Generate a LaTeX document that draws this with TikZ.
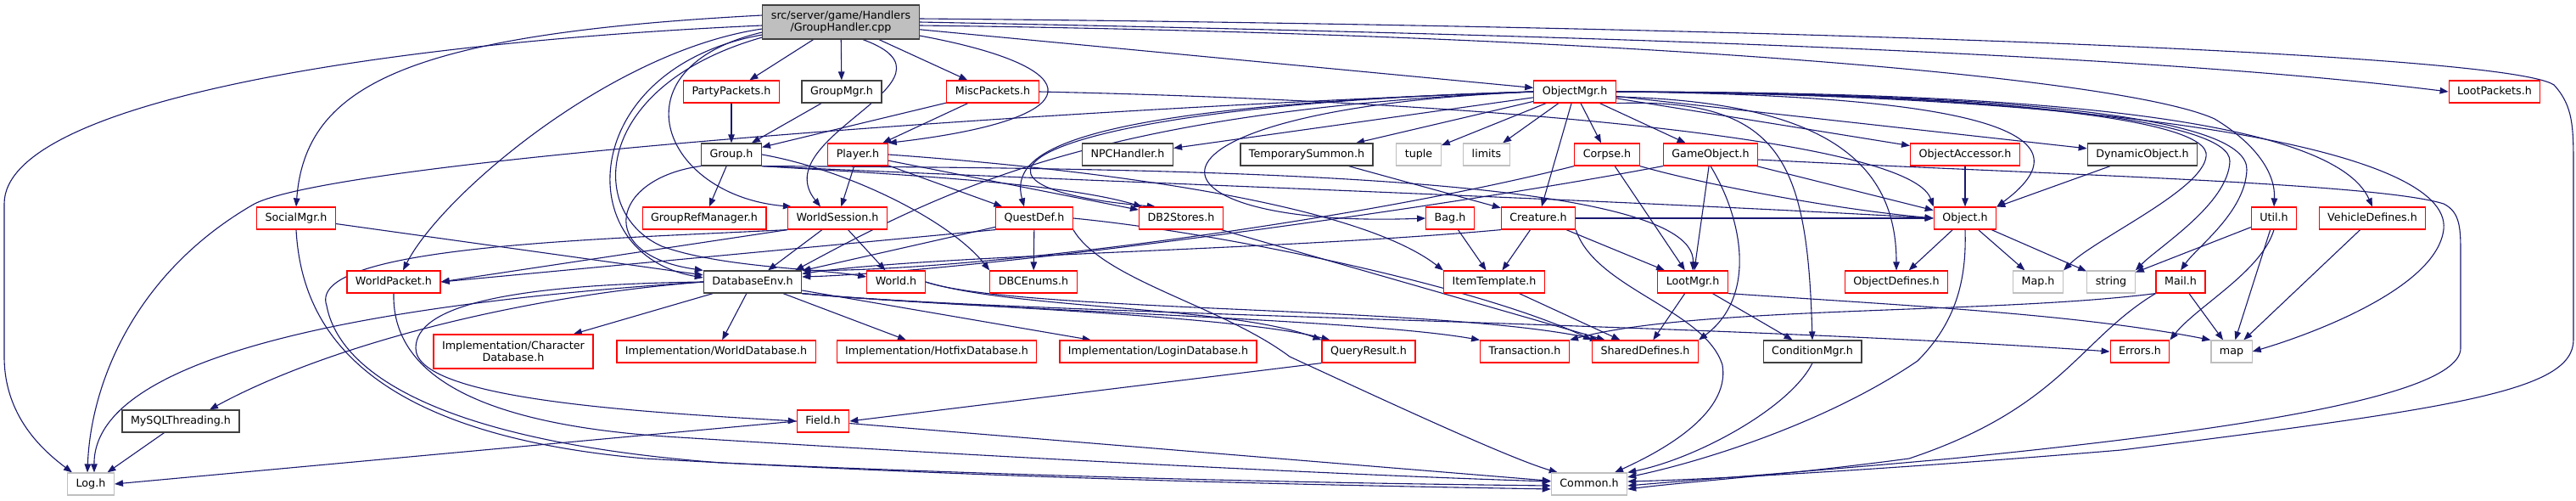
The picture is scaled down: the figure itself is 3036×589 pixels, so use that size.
\documentclass[tikz,border=0pt]{standalone}
\usepackage{fontspec}
\setmainfont{DejaVu Sans}
\usetikzlibrary{arrows.meta,calc}
\pgfdeclarelayer{bg}
\pgfsetlayers{bg,main}
\definecolor{edgecol}{HTML}{191970}
\definecolor{grayb}{HTML}{BFBFBF}
\definecolor{redb}{HTML}{FF0000}
\definecolor{blackb}{HTML}{404040}
\begin{document}
\begin{tikzpicture}[x=1pt,y=-1pt,
  box/.style={draw, rectangle, fill=white, line width=1.2pt, inner xsep=10pt, inner ysep=0pt,
    minimum height=26pt, text height=9.5pt, text depth=2.5pt, font=\fontsize{12.7}{15}\selectfont},
  redn/.style={box, draw=redb},
  blkn/.style={box, draw=blackb},
  grayn/.style={box, draw=grayb},
  twol/.style={draw, rectangle, fill=white, line width=1.2pt, align=center, inner xsep=10pt, inner ysep=3pt,
    minimum height=40pt, font=\fontsize{12.7}{14.5}\selectfont},
  edg/.style={draw=edgecol, line width=1.1pt, -{Triangle[length=10pt,width=7.5pt]}}
]
\useasboundingbox (0,0) rectangle (3036,589);
% nodes
\node[twol, fill=grayb, draw=blackb] (root) at (991,26) {src/server/game/Handlers\\/GroupHandler.cpp};
\node[redn] (party) at (862,108) {PartyPackets.h};
\node[blkn] (groupmgr) at (992,108) {GroupMgr.h};
\node[redn] (misc) at (1170,108) {MiscPackets.h};
\node[redn] (objmgr) at (1856,108) {ObjectMgr.h};
\node[redn] (lootpk) at (2940,108) {LootPackets.h};
\node[blkn] (group) at (862,182) {Group.h};
\node[redn] (player) at (1011,182) {Player.h};
\node[blkn] (npc) at (1329,182) {NPCHandler.h};
\node[blkn] (tsum) at (1540,182) {TemporarySummon.h};
\node[grayn] (tuple) at (1672,182) {tuple};
\node[grayn] (limits) at (1752,182) {limits};
\node[redn] (corpse) at (1894,182) {Corpse.h};
\node[redn] (gameobj) at (2016,182) {GameObject.h};
\node[redn] (objacc) at (2316,182) {ObjectAccessor.h};
\node[blkn] (dynobj) at (2525,182) {DynamicObject.h};
\node[redn] (social) at (349,257) {SocialMgr.h};
\node[redn] (grm) at (830,257) {GroupRefManager.h};
\node[redn] (wsess) at (987,257) {WorldSession.h};
\node[redn] (quest) at (1219,257) {QuestDef.h};
\node[redn] (db2) at (1392,257) {DB2Stores.h};
\node[redn] (bag) at (1709,257) {Bag.h};
\node[redn] (creature) at (1813,257) {Creature.h};
\node[redn] (object) at (2316,257) {Object.h};
\node[redn] (util) at (2680,257) {Util.h};
\node[redn] (vehicle) at (2796,257) {VehicleDefines.h};
\node[redn] (wpacket) at (464,332) {WorldPacket.h};
\node[blkn] (dbenv) at (887,332) {DatabaseEnv.h};
\node[redn] (world) at (1056,332) {World.h};
\node[redn] (dbcenums) at (1218,332) {DBCEnums.h};
\node[redn] (itemtpl) at (1761,332) {ItemTemplate.h};
\node[redn] (lootmgr) at (1995,332) {LootMgr.h};
\node[redn] (objdef) at (2235,332) {ObjectDefines.h};
\node[grayn] (maph) at (2402,332) {Map.h};
\node[grayn] (string) at (2488,332) {string};
\node[redn] (mail) at (2570,332) {Mail.h};
\node[twol, draw=redb] (chardb) at (605,414) {Implementation/Character\\Database.h};
\node[redn] (worlddb) at (844,414) {Implementation/WorldDatabase.h};
\node[redn] (hotfix) at (1104,414) {Implementation/HotfixDatabase.h};
\node[redn] (logindb) at (1365,414) {Implementation/LoginDatabase.h};
\node[redn] (qresult) at (1613,414) {QueryResult.h};
\node[redn] (trans) at (1797,414) {Transaction.h};
\node[redn] (shared) at (1939,414) {SharedDefines.h};
\node[blkn] (cond) at (2136,414) {ConditionMgr.h};
\node[redn] (errors) at (2522,414) {Errors.h};
\node[grayn] (mapstd) at (2630,414) {map};
\node[blkn] (mysql) at (213,496) {MySQLThreading.h};
\node[redn] (field) at (970,496) {Field.h};
\node[grayn] (log) at (107,570) {Log.h};
\node[grayn] (common) at (1873,570) {Common.h};

\begin{pgfonlayer}{bg}
\fill[white] (0,0) rectangle (3036,589);
% root
\draw[edg] (root) -- (party);
\draw[edg] (root) -- (groupmgr);
\draw[edg] (root) -- (misc);
\draw[edg] (root) -- (objmgr);
\draw[edg] ($(root.east)+(0,16)$) .. controls (1290,80) and (1290,140) .. (player.north east);
\draw[edg] ($(root.south)+(26,0)$) .. controls (1150,95) and (900,160) .. ($(wsess.north)+(-20,0)$);
\draw[edg] ($(root.west)+(0,12)$) .. controls (720,80) and (780,230) .. ($(wsess.north west)+(5,0)$);
\draw[edg] ($(root.west)+(0,-8)$) .. controls (480,40) and (360,100) .. (social.north);
\draw[edg] ($(root.west)+(0,4)$) .. controls (450,50) and (5,120) .. (5,240) -- (5,420) .. controls (5,490) and (50,530) .. ($(log.north)+(-22,0)$);
\draw[edg] ($(root.west)+(0,8)$) .. controls (720,60) and (520,230) .. ($(wpacket.north)+(11,0)$);
\draw[edg] ($(root.west)+(0,15)$) .. controls (680,80) and (670,300) .. ($(dbenv.west)+(0,-5)$);
\draw[edg] ($(root.west)+(0,18)$) .. controls (700,100) and (690,250) .. (780,290) .. controls (850,315) and (960,316) .. ($(world.west)+(0,-6)$);
\draw[edg] ($(root.east)+(0,-4)$) .. controls (2000,30) and (2950,60) .. (3010,100) .. controls (3033,125) and (3033,150) .. (3033,200) -- (3033,400) .. controls (3033,460) and (2900,480) .. (2500,530) .. controls (2200,555) and (2000,565) .. ($(common.east)+(0,-3)$);
\draw[edg] (root.east) .. controls (1800,40) and (2500,60) .. (lootpk.west);
\draw[edg] ($(root.east)+(0,4)$) .. controls (1900,40) and (2500,90) .. (2610,140) .. controls (2660,170) and (2682,205) .. (util.north);
% row 1
\draw[edg] (party) -- (group);
\draw[edg] (groupmgr) -- (group);
\draw[edg] (misc) -- (group);
\draw[edg] (misc) -- (player);
\draw[edg] (misc.east) .. controls (1700,118) and (2250,160) .. (object.north west);
% objmgr
\draw[edg] (objmgr.west) .. controls (1200,130) and (400,190) .. (300,240) .. controls (160,320) and (107,450) .. ($(log.north)+(-4,0)$);
\draw[edg] (objmgr.west) .. controls (1300,130) and (1120,220) .. ($(dbenv.north east)+(-8,0)$);
\draw[edg] (objmgr.west) .. controls (1250,125) and (1190,180) .. ($(quest.north)+(-12,0)$);
\draw[edg] (objmgr.west) .. controls (1200,125) and (1080,220) .. ($(db2.north)+(-30,0)$);
\draw[edg] (objmgr.west) .. controls (1300,130) and (1330,270) .. (bag.west);
\draw[edg] (objmgr) -- (npc);
\draw[edg] (objmgr) -- (tsum);
\draw[edg] (objmgr) -- (tuple);
\draw[edg] (objmgr) -- (limits);
\draw[edg] (objmgr) -- (creature);
\draw[edg] (objmgr) -- (corpse);
\draw[edg] (objmgr) -- (gameobj);
\draw[edg] (objmgr) -- (objacc);
\draw[edg] (objmgr) -- (dynobj);
\draw[edg] (objmgr.east) .. controls (2300,112) and (2480,150) .. (object.north east);
\draw[edg] ($(objmgr.east)+(0,6)$) .. controls (2150,120) and (2235,190) .. (objdef.north);
\draw[edg] (objmgr.south east) .. controls (2100,115) and (2130,190) .. (cond.north);
\draw[edg] (objmgr.east) .. controls (2300,110) and (2590,135) .. (2600,180) .. controls (2605,220) and (2470,280) .. (maph.north east);
\draw[edg] (objmgr.east) .. controls (2350,110) and (2630,140) .. (2628,190) .. controls (2626,240) and (2545,290) .. (string.north east);
\draw[edg] (objmgr.east) .. controls (2400,110) and (2650,140) .. (2648,200) .. controls (2646,250) and (2590,290) .. (mail.north);
\draw[edg] (objmgr.east) .. controls (2400,108) and (2750,140) .. (vehicle.north);
\draw[edg] (objmgr.east) .. controls (2500,112) and (2890,175) .. (2880,270) .. controls (2872,340) and (2720,395) .. (mapstd.east);
% group
\draw[edg] (group) -- (grm);
\draw[edg] (group.south west) .. controls (720,210) and (700,300) .. (dbenv.north west);
\draw[edg] (group.east) .. controls (1000,200) and (1120,260) .. (dbcenums.north west);
\draw[edg] (group.south east) .. controls (1050,205) and (1250,215) .. ($(db2.north west)+(4,0)$);
\draw[edg] (group.south east) .. controls (1400,198) and (2000,205) .. (lootmgr.north);
\draw[edg] (group.south east) .. controls (1200,210) and (1900,235) .. (object.west);
% player
\draw[edg] (player) -- (wsess);
\draw[edg] (player) -- (quest);
\draw[edg] (player) -- (db2);
\draw[edg] (player.east) .. controls (1300,200) and (1600,240) .. (itemtpl.north west);
% wsess
\draw[edg] (wsess.south west) -- (wpacket.east);
\draw[edg] (wsess) -- (dbenv);
\draw[edg] (wsess) -- (world);
\draw[edg] (wsess.south west) .. controls (700,282) and (360,290) .. (385,360) .. controls (400,440) and (520,520) .. (850,545) .. controls (1300,565) and (1650,570) .. ($(common.west)+(0,2)$);
% social
\draw[edg] (social) -- (dbenv);
\draw[edg] (social.south) .. controls (355,380) and (420,510) .. (760,540) .. controls (1200,565) and (1600,572) .. ($(common.west)+(0,6)$);
% wpacket
\draw[edg] (wpacket.south) .. controls (462,430) and (540,500) .. (800,515) .. controls (1200,540) and (1600,560) .. ($(common.west)+(0,-3)$);
% quest
\draw[edg] (quest) -- (dbcenums);
\draw[edg] (quest) -- (dbenv);
\draw[edg] (quest.south west) -- (wpacket.east);
\draw[edg] (quest.east) .. controls (1450,275) and (1750,340) .. (shared.north west);
\draw[edg] (quest.south east) .. controls (1300,330) and (1440,360) .. (1520,420) .. controls (1650,480) and (1780,540) .. ($(common.north west)+(8,0)$);
% db2
\draw[edg] (db2) -- (shared);
% world
\draw[edg] (world.east) .. controls (1200,365) and (1450,360) .. (qresult.north west);
\draw[edg] (world.east) .. controls (1200,368) and (1700,360) .. ($(shared.north west)+(8,0)$);
% dbenv
\draw[edg] (dbenv) -- (chardb);
\draw[edg] (dbenv) -- (worlddb);
\draw[edg] (dbenv) -- (hotfix);
\draw[edg] (dbenv) -- (logindb);
\draw[edg] (dbenv.west) .. controls (480,355) and (110,410) .. ($(log.north)+(4,0)$);
\draw[edg] (dbenv.west) .. controls (600,350) and (380,410) .. ($(mysql.north)+(34,0)$);
\draw[edg] (dbenv.west) .. controls (600,335) and (490,360) .. (490,410) .. controls (490,470) and (750,485) .. (field.west);
\draw[edg] (dbenv.south east) .. controls (1100,360) and (1450,370) .. ($(qresult.north west)+(10,0)$);
\draw[edg] (dbenv.south east) .. controls (1150,365) and (1600,375) .. (trans.north west);
\draw[edg] (dbenv.south east) .. controls (1200,370) and (2000,380) .. (errors.west);
% corpse creature gameobj
\draw[edg] (corpse.south west) .. controls (1600,260) and (1150,320) .. (dbenv.north east);
\draw[edg] (creature.south west) .. controls (1500,295) and (1100,300) .. ($(dbenv.north east)+(0,4)$);
\draw[edg] (gameobj.south west) .. controls (1700,245) and (1150,320) .. ($(dbenv.east)+(0,-6)$);
\draw[edg] (corpse) -- (lootmgr);
\draw[edg] (gameobj) -- (lootmgr);
\draw[edg] (creature) -- (lootmgr);
\draw[edg] (creature) -- (itemtpl);
\draw[edg] (bag) -- (itemtpl);
\draw[edg] (tsum) -- (creature);
\draw[edg] (creature) -- (object);
\draw[edg] (corpse.south east) .. controls (2000,215) and (2150,245) .. (object.west);
\draw[edg] (gameobj) -- (object);
\draw[edg] (gameobj.south) .. controls (2055,260) and (2070,350) .. (shared.north east);
\draw[edg] ($(gameobj.east)+(0,6)$) .. controls (2400,205) and (2800,215) .. (2880,240) .. controls (2900,250) and (2900,270) .. (2900,300) -- (2900,410) .. controls (2900,470) and (2600,510) .. (2300,540) .. controls (2100,558) and (2000,565) .. ($(common.east)+(0,2)$);
\draw[edg] (creature.south east) .. controls (1880,340) and (2010,365) .. (2030,430) .. controls (2040,490) and (1950,535) .. ($(common.north)+(30,0)$);
% object
\draw[edg] (objacc) -- (object);
\draw[edg] (dynobj) -- (object);
\draw[edg] (object) -- (objdef);
\draw[edg] (object) -- (maph);
\draw[edg] (object) -- (string);
\draw[edg] (object.south) .. controls (2318,330) and (2305,380) .. (2260,425) .. controls (2150,500) and (2000,545) .. ($(common.east)+(0,-8)$);
% util, vehicle, mail
\draw[edg] (util) -- (string);
\draw[edg] (util.south) .. controls (2665,320) and (2590,360) .. (errors.north east);
\draw[edg] (util) -- (mapstd);
\draw[edg] (vehicle) -- (mapstd);
\draw[edg] (mail) -- (mapstd);
\draw[edg] (mail.south west) .. controls (2350,370) and (2000,360) .. (trans.north east);
\draw[edg] (mail.south west) .. controls (2450,400) and (2430,480) .. (2250,540) .. controls (2100,560) and (2000,566) .. ($(common.east)+(0,6)$);
% lootmgr
\draw[edg] (lootmgr) -- (shared);
\draw[edg] (lootmgr) -- (cond);
\draw[edg] (lootmgr.south east) .. controls (2250,360) and (2450,370) .. (mapstd.north west);
\draw[edg] (cond.south) .. controls (2110,480) and (2000,540) .. (common.north east);
% misc
\draw[edg] (itemtpl) -- (shared);
\draw[edg] (qresult.south west) -- (field.east);
\draw[edg] (field) -- (common);
\draw[edg] (field.west) -- (log.east);
\draw[edg] (mysql) -- (log);
\end{pgfonlayer}
\end{tikzpicture}
\end{document}
